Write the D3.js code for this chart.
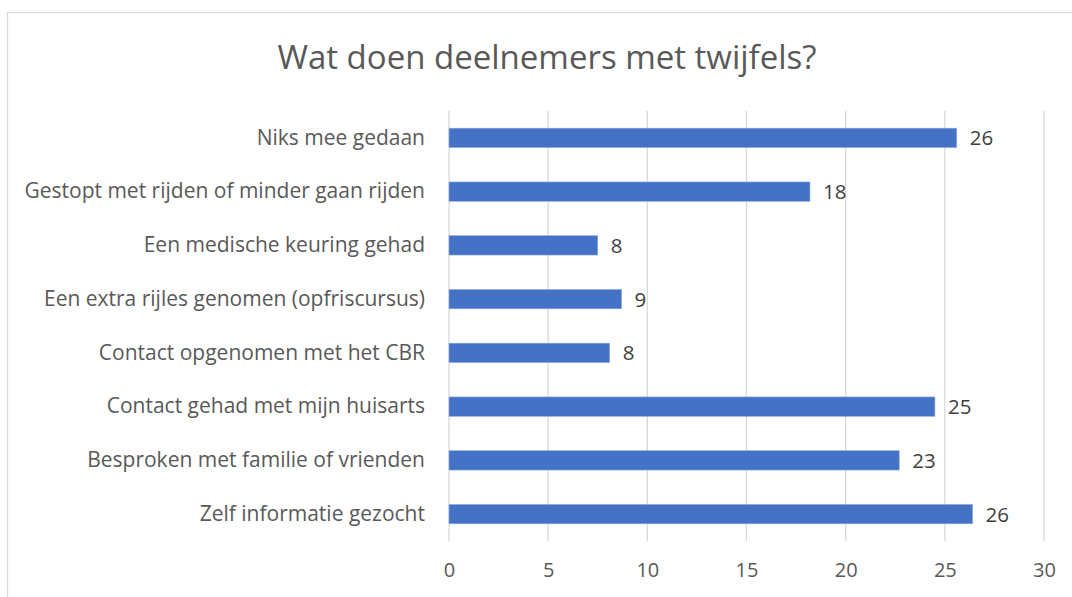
<!DOCTYPE html>
<html>
<head>
<meta charset="utf-8">
<script src="https://cdn.jsdelivr.net/npm/d3@7"></script>
<style>
  body { margin: 0; background: #fff; }
  svg { display: block; font-family: "Open Sans", Lato, sans-serif; }
</style>
</head>
<body>
<div id="chart"></div>
<script>
// categories, top to bottom
const categories = [
  "Niks mee gedaan",
  "Gestopt met rijden of minder gaan rijden",
  "Een medische keuring gehad",
  "Een extra rijles genomen (opfriscursus)",
  "Contact opgenomen met het CBR",
  "Contact gehad met mijn huisarts",
  "Besproken met familie of vrienden",
  "Zelf informatie gezocht"
];
// bar values (labels are shown rounded)
const values = [25.6, 18.2, 7.5, 8.7, 8.1, 24.5, 22.7, 26.4];
const xTicks = [0, 5, 10, 15, 20, 25, 30];
const title = "Wat doen deelnemers met twijfels?";

const W = 1072, H = 597;
const margin = {top: 111, right: 28, bottom: 56, left: 449};
const font = "'Open Sans', Lato, sans-serif";

const svg = d3.select("#chart").append("svg")
    .attr("width", W)
    .attr("height", H);

// chart frame
svg.append("rect")
    .attr("x", 7.5).attr("y", 12.5)
    .attr("width", W + 10).attr("height", H + 10)
    .attr("fill", "none")
    .attr("stroke", "#d9d9d9")
    .attr("stroke-width", 1.3);

// title
svg.append("text")
    .attr("x", 547).attr("y", 69)
    .attr("text-anchor", "middle")
    .attr("font-size", 33)
    .attr("fill", "#595959")
    .text(title);

const x = d3.scaleLinear()
    .domain([0, 30])
    .range([margin.left, W - margin.right]);

const y = d3.scaleBand()
    .domain(categories)
    .range([margin.top, H - margin.bottom])
    .paddingInner(0.64)
    .paddingOuter(0.32);

// gridlines
svg.append("g")
    .selectAll("line")
    .data(xTicks).enter()
    .append("line")
    .attr("x1", d => x(d)).attr("x2", d => x(d))
    .attr("y1", margin.top).attr("y2", H - margin.bottom)
    .attr("stroke", "#d9d9d9")
    .attr("stroke-width", 1.3);

// x axis labels
let xAxis = svg.append("g")
    .attr("transform", "translate(0," + (H - margin.bottom + 22) + ")")
    .call(d3.axisBottom(x).tickValues(xTicks).tickSize(0).tickPadding(0));
xAxis.select(".domain").remove();
xAxis.selectAll("text")
    .attr("font-family", font)
    .attr("font-size", 20)
    .attr("fill", "#595959");

// category labels
let yAxis = svg.append("g")
    .attr("transform", "translate(" + (margin.left - 24) + ",0)")
    .call(d3.axisLeft(y).tickSize(0).tickPadding(0));
yAxis.select(".domain").remove();
yAxis.selectAll("text")
    .attr("font-family", font)
    .attr("font-size", 21)
    .attr("fill", "#595959");

// bars
svg.selectAll(".bar")
    .data(values).enter()
    .append("rect")
    .attr("class", "bar")
    .attr("x", x(0))
    .attr("y", (d, i) => y(categories[i]))
    .attr("width", d => x(d) - x(0))
    .attr("height", y.bandwidth())
    .attr("fill", "#4472c4")
    .attr("stroke", "#8faadc")
    .attr("stroke-width", 0.6);

// value labels
svg.selectAll(".val")
    .data(values).enter()
    .append("text")
    .attr("class", "val")
    .attr("x", d => x(d) + 13)
    .attr("y", (d, i) => y(categories[i]) + y.bandwidth() / 2)
    .attr("dy", "0.36em")
    .attr("font-size", 20.5)
    .attr("fill", "#404040")
    .text(d => Math.round(d));
</script>
</body>
</html>
